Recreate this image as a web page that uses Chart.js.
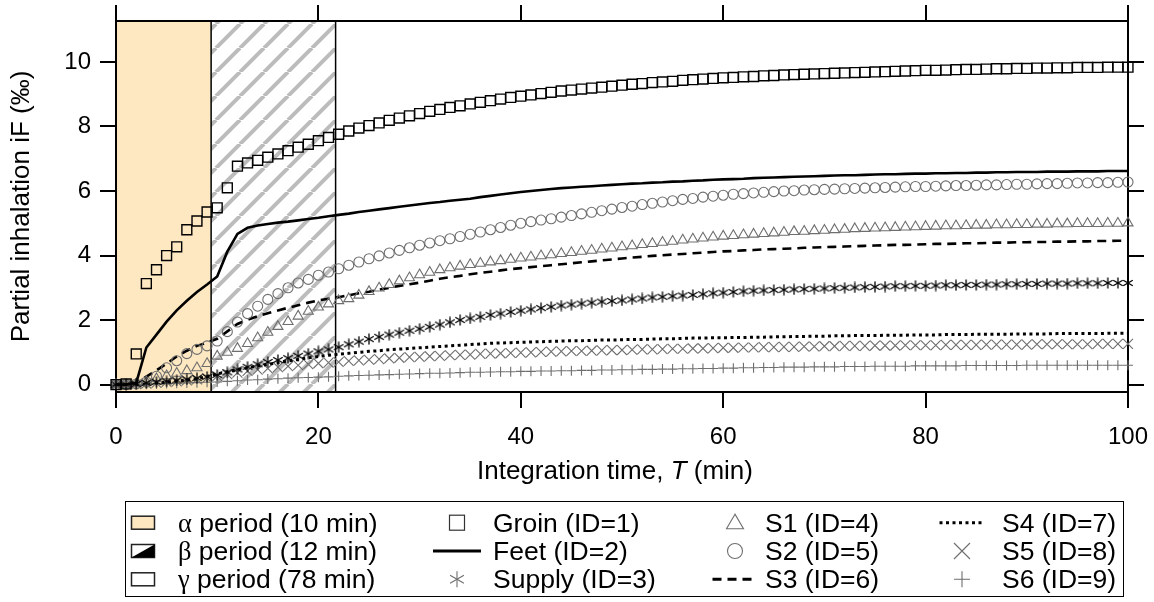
<!DOCTYPE html>
<html lang="en">
<head>
<meta charset="UTF-8">
<title>Partial inhalation iF</title>
<script src="https://cdn.jsdelivr.net/npm/chart.js@4.4.1/dist/chart.umd.min.js"></script>
<style>
  body { margin: 0; background: #fff; }
  #wrap { position: relative; width: 1154px; height: 602px; background: #fff; font-family: "Liberation Sans", Arial, sans-serif; color: #000; }
  #chart { position: absolute; left: 0; top: 0; }
  #xtitle { position: absolute; left: 0; width: 1230px; top: 455px; line-height: 30px; font-size: 26px; text-align: center; white-space: nowrap; }
  #legendBox { position: absolute; left: 125px; top: 501px; width: 997px; height: 94px; border: 1.5px solid #000; }
  .lg { position: absolute; font-size: 26.5px; line-height: 28px; white-space: nowrap; }
  .gr { font-family: "Liberation Serif", "DejaVu Serif", serif; }
  #sym { position: absolute; left: 0; top: 0; }
</style>
</head>
<body>
<div id="wrap">
  <canvas id="chart" width="1154" height="602"></canvas>
  <div id="xtitle">Integration time, <i>T</i> (min)</div>
  <div id="legendBox"></div>
  <svg id="sym" width="1154" height="602"></svg>
</div>
<script>
// integration time grid (min)
var minutes = [];
for (var i = 0; i <= 100; i++) minutes.push(i);

var groin = [0.00, 0.02, 0.95, 3.13, 3.56, 4.00, 4.27, 4.80, 5.07, 5.35,
  5.48, 6.10, 6.77, 6.87, 6.95, 7.05, 7.15, 7.25, 7.36, 7.45,
  7.56, 7.66, 7.76, 7.86, 7.95, 8.03, 8.11, 8.19, 8.26, 8.33,
  8.40, 8.47, 8.53, 8.59, 8.64, 8.70, 8.75, 8.80, 8.85, 8.90,
  8.94, 8.98, 9.02, 9.06, 9.10, 9.13, 9.16, 9.19, 9.22, 9.25,
  9.28, 9.31, 9.33, 9.36, 9.38, 9.40, 9.43, 9.45, 9.47, 9.49,
  9.51, 9.52, 9.54, 9.55, 9.57, 9.58, 9.60, 9.61, 9.62, 9.63,
  9.64, 9.65, 9.66, 9.67, 9.68, 9.69, 9.70, 9.71, 9.72, 9.73,
  9.74, 9.74, 9.75, 9.76, 9.77, 9.77, 9.78, 9.79, 9.79, 9.80,
  9.80, 9.81, 9.81, 9.82, 9.82, 9.83, 9.83, 9.83, 9.84, 9.84,
  9.84];

var feet = [0.00, 0.00, 0.05, 1.15, 1.55, 1.95, 2.30, 2.60, 2.87, 3.10,
  3.35, 4.12, 4.67, 4.86, 4.93, 4.98, 5.02, 5.05, 5.09, 5.13,
  5.17, 5.22, 5.26, 5.30, 5.35, 5.39, 5.43, 5.47, 5.51, 5.55,
  5.59, 5.63, 5.66, 5.70, 5.73, 5.76, 5.81, 5.85, 5.89, 5.93,
  5.97, 6.00, 6.03, 6.06, 6.09, 6.11, 6.13, 6.15, 6.17, 6.19,
  6.21, 6.23, 6.24, 6.26, 6.27, 6.29, 6.30, 6.32, 6.33, 6.35,
  6.36, 6.37, 6.38, 6.40, 6.41, 6.42, 6.43, 6.44, 6.45, 6.46,
  6.47, 6.48, 6.49, 6.49, 6.50, 6.51, 6.52, 6.52, 6.53, 6.54,
  6.54, 6.55, 6.55, 6.56, 6.56, 6.57, 6.57, 6.58, 6.58, 6.59,
  6.59, 6.59, 6.60, 6.60, 6.60, 6.61, 6.61, 6.61, 6.62, 6.62,
  6.62];

var supply = [0.00, 0.00, 0.02, 0.05, 0.08, 0.10, 0.13, 0.16, 0.20, 0.24,
  0.30, 0.38, 0.47, 0.55, 0.63, 0.70, 0.76, 0.82, 0.89, 0.96,
  1.03, 1.09, 1.16, 1.25, 1.33, 1.41, 1.48, 1.55, 1.61, 1.67,
  1.73, 1.79, 1.86, 1.93, 2.00, 2.05, 2.10, 2.16, 2.20, 2.25,
  2.29, 2.33, 2.37, 2.41, 2.45, 2.48, 2.51, 2.54, 2.57, 2.59,
  2.61, 2.64, 2.67, 2.70, 2.72, 2.74, 2.76, 2.78, 2.80, 2.83,
  2.85, 2.87, 2.89, 2.91, 2.92, 2.93, 2.94, 2.95, 2.96, 2.97,
  2.98, 2.99, 3.00, 3.01, 3.02, 3.03, 3.04, 3.05, 3.05, 3.06,
  3.06, 3.07, 3.08, 3.08, 3.09, 3.09, 3.10, 3.10, 3.11, 3.11,
  3.12, 3.12, 3.13, 3.13, 3.13, 3.14, 3.14, 3.14, 3.15, 3.15,
  3.15];

var s1 = [0.00, 0.00, 0.02, 0.08, 0.18, 0.27, 0.35, 0.43, 0.52, 0.65,
  0.88, 1.00, 1.12, 1.27, 1.45, 1.62, 1.80, 1.95, 2.12, 2.27,
  2.40, 2.50, 2.60, 2.66, 2.77, 2.88, 2.99, 3.10, 3.21, 3.31,
  3.40, 3.48, 3.56, 3.62, 3.67, 3.72, 3.76, 3.80, 3.84, 3.88,
  3.92, 3.95, 3.99, 4.02, 4.06, 4.09, 4.13, 4.16, 4.20, 4.23,
  4.27, 4.30, 4.34, 4.37, 4.41, 4.44, 4.48, 4.51, 4.54, 4.57,
  4.60, 4.62, 4.64, 4.66, 4.68, 4.70, 4.72, 4.74, 4.75, 4.77,
  4.78, 4.80, 4.81, 4.83, 4.84, 4.85, 4.86, 4.87, 4.88, 4.89,
  4.90, 4.91, 4.92, 4.92, 4.93, 4.94, 4.94, 4.95, 4.95, 4.96,
  4.96, 4.97, 4.97, 4.98, 4.98, 4.99, 4.99, 4.99, 5.00, 5.00,
  5.01];

var s2 = [0.00, 0.00, 0.02, 0.08, 0.26, 0.52, 0.74, 0.96, 1.09, 1.20,
  1.35, 1.64, 1.94, 2.20, 2.43, 2.64, 2.82, 3.00, 3.15, 3.26,
  3.39, 3.49, 3.59, 3.70, 3.80, 3.90, 3.99, 4.08, 4.16, 4.24,
  4.32, 4.39, 4.46, 4.52, 4.59, 4.66, 4.73, 4.80, 4.87, 4.94,
  5.00, 5.05, 5.10, 5.14, 5.19, 5.24, 5.29, 5.34, 5.39, 5.44,
  5.49, 5.53, 5.58, 5.62, 5.66, 5.70, 5.74, 5.77, 5.81, 5.84,
  5.87, 5.90, 5.92, 5.94, 5.96, 5.98, 6.00, 6.01, 6.03, 6.04,
  6.05, 6.06, 6.07, 6.08, 6.09, 6.10, 6.11, 6.12, 6.13, 6.14,
  6.14, 6.15, 6.16, 6.17, 6.17, 6.18, 6.19, 6.19, 6.20, 6.21,
  6.21, 6.22, 6.23, 6.23, 6.24, 6.25, 6.25, 6.26, 6.26, 6.27,
  6.28];

var s3 = [0.00, 0.00, 0.05, 0.25, 0.44, 0.65, 0.87, 1.05, 1.20, 1.30,
  1.42, 1.65, 1.88, 2.01, 2.12, 2.21, 2.30, 2.38, 2.46, 2.54,
  2.61, 2.66, 2.71, 2.77, 2.83, 2.88, 2.94, 3.00, 3.06, 3.11,
  3.16, 3.22, 3.28, 3.33, 3.37, 3.42, 3.46, 3.50, 3.54, 3.58,
  3.61, 3.64, 3.67, 3.70, 3.73, 3.76, 3.79, 3.82, 3.85, 3.88,
  3.91, 3.94, 3.96, 3.99, 4.01, 4.03, 4.05, 4.07, 4.09, 4.11,
  4.13, 4.14, 4.16, 4.17, 4.19, 4.20, 4.21, 4.22, 4.24, 4.25,
  4.26, 4.27, 4.28, 4.29, 4.30, 4.31, 4.32, 4.33, 4.33, 4.34,
  4.35, 4.36, 4.36, 4.37, 4.38, 4.38, 4.39, 4.40, 4.40, 4.41,
  4.41, 4.42, 4.42, 4.43, 4.43, 4.44, 4.44, 4.45, 4.45, 4.46,
  4.46];

var s4 = [0.00, 0.00, 0.00, 0.02, 0.05, 0.08, 0.11, 0.14, 0.18, 0.25,
  0.33, 0.40, 0.46, 0.52, 0.58, 0.63, 0.68, 0.73, 0.78, 0.83,
  0.87, 0.91, 0.94, 0.97, 1.00, 1.03, 1.05, 1.08, 1.10, 1.12,
  1.14, 1.16, 1.18, 1.20, 1.22, 1.24, 1.26, 1.28, 1.29, 1.30,
  1.31, 1.32, 1.33, 1.34, 1.35, 1.36, 1.36, 1.37, 1.38, 1.38,
  1.39, 1.40, 1.40, 1.41, 1.42, 1.42, 1.43, 1.44, 1.44, 1.45,
  1.45, 1.46, 1.46, 1.47, 1.47, 1.48, 1.48, 1.49, 1.49, 1.50,
  1.50, 1.51, 1.51, 1.52, 1.52, 1.52, 1.53, 1.53, 1.53, 1.54,
  1.54, 1.54, 1.55, 1.55, 1.55, 1.56, 1.56, 1.56, 1.56, 1.57,
  1.57, 1.57, 1.57, 1.58, 1.58, 1.58, 1.58, 1.58, 1.59, 1.59,
  1.59];

var s5 = [0.00, 0.00, 0.01, 0.03, 0.05, 0.08, 0.10, 0.13, 0.16, 0.20,
  0.26, 0.32, 0.37, 0.42, 0.46, 0.50, 0.54, 0.57, 0.60, 0.63,
  0.66, 0.68, 0.70, 0.73, 0.75, 0.77, 0.79, 0.81, 0.83, 0.85,
  0.86, 0.88, 0.89, 0.91, 0.92, 0.93, 0.95, 0.96, 0.97, 0.98,
  0.99, 1.00, 1.01, 1.02, 1.03, 1.04, 1.04, 1.05, 1.06, 1.07,
  1.07, 1.08, 1.09, 1.09, 1.10, 1.11, 1.11, 1.12, 1.12, 1.13,
  1.14, 1.14, 1.15, 1.15, 1.16, 1.16, 1.17, 1.17, 1.18, 1.18,
  1.19, 1.19, 1.20, 1.20, 1.20, 1.21, 1.21, 1.21, 1.22, 1.22,
  1.22, 1.22, 1.23, 1.23, 1.23, 1.23, 1.24, 1.24, 1.24, 1.24,
  1.24, 1.25, 1.25, 1.25, 1.25, 1.25, 1.25, 1.26, 1.26, 1.26,
  1.26];

var s6 = [0.00, 0.00, 0.00, 0.01, 0.02, 0.03, 0.04, 0.05, 0.06, 0.07,
  0.08, 0.10, 0.12, 0.14, 0.15, 0.17, 0.18, 0.20, 0.21, 0.22,
  0.23, 0.24, 0.26, 0.27, 0.28, 0.29, 0.30, 0.31, 0.32, 0.33,
  0.34, 0.35, 0.35, 0.36, 0.37, 0.38, 0.38, 0.39, 0.40, 0.40,
  0.41, 0.41, 0.42, 0.42, 0.43, 0.43, 0.44, 0.44, 0.45, 0.45,
  0.46, 0.46, 0.47, 0.47, 0.48, 0.48, 0.49, 0.49, 0.50, 0.50,
  0.51, 0.51, 0.52, 0.52, 0.53, 0.53, 0.54, 0.54, 0.54, 0.55,
  0.55, 0.55, 0.56, 0.56, 0.56, 0.57, 0.57, 0.57, 0.57, 0.58,
  0.58, 0.58, 0.58, 0.58, 0.59, 0.59, 0.59, 0.59, 0.59, 0.59,
  0.60, 0.60, 0.60, 0.60, 0.60, 0.60, 0.60, 0.60, 0.60, 0.60,
  0.60];

// period bounds as drawn on the time axis (min)
var alphaPeriod = [0, 9.4];
var betaPeriod = [9.4, 21.7];

var xTicks = [0, 20, 40, 60, 80, 100];
var yTicks = [0, 2, 4, 6, 8, 10];

var legendText = [
  ['α', ' period (10 min)'], ['β', ' period (12 min)'], ['γ', ' period (78 min)'],
  'Groin (ID=1)', 'Feet  (ID=2)', 'Supply (ID=3)',
  'S1 (ID=4)', 'S2 (ID=5)', 'S3 (ID=6)',
  'S4 (ID=7)', 'S5 (ID=8)', 'S6 (ID=9)'
];

var FONT = '"Liberation Sans", Arial, sans-serif';
var GREY = '#6e6e6e';

function pts(vals) {
  return minutes.map(function (m, k) { return { x: m, y: vals[k] }; });
}

function asterisk(size, color, lw) {
  var c = document.createElement('canvas');
  c.width = size; c.height = size;
  var g = c.getContext('2d');
  g.strokeStyle = color; g.lineWidth = lw;
  var m = size / 2, r = size / 2 - 0.5;
  [90, 30, 150].forEach(function (a) {
    var t = a * Math.PI / 180;
    g.beginPath();
    g.moveTo(m - r * Math.cos(t), m - r * Math.sin(t));
    g.lineTo(m + r * Math.cos(t), m + r * Math.sin(t));
    g.stroke();
  });
  return c;
}

function hatch() {
  var c = document.createElement('canvas');
  c.width = 24; c.height = 24;
  var g = c.getContext('2d');
  g.fillStyle = '#fff';
  g.fillRect(0, 0, 24, 24);
  g.strokeStyle = '#bcbcbc';
  g.lineWidth = 4;
  [-24, 0, 24].forEach(function (o) {
    g.beginPath();
    g.moveTo(o, 24);
    g.lineTo(o + 24, 0);
    g.stroke();
  });
  return c;
}

var periodsPlugin = {
  id: 'periods',
  beforeDraw: function (chart) {
    var ctx = chart.ctx, a = chart.chartArea, x = chart.scales.x;
    ctx.save();
    ctx.fillStyle = '#fff';
    ctx.fillRect(0, 0, chart.width, chart.height);
    var x0 = x.getPixelForValue(alphaPeriod[0]), x1 = x.getPixelForValue(alphaPeriod[1]);
    var x2 = x.getPixelForValue(betaPeriod[1]);
    ctx.fillStyle = '#fde8c2';
    ctx.fillRect(x0, a.top, x1 - x0, a.bottom - a.top);
    ctx.fillStyle = ctx.createPattern(hatch(), 'repeat');
    ctx.fillRect(x1, a.top, x2 - x1, a.bottom - a.top);
    ctx.strokeStyle = '#000';
    ctx.lineWidth = 1.5;
    [x1, x2].forEach(function (p) {
      ctx.beginPath();
      ctx.moveTo(p, a.top);
      ctx.lineTo(p, a.bottom);
      ctx.stroke();
    });
    ctx.restore();
  }
};

function frameAxis(pos, min, max, ticks, size) {
  var horiz = pos === 'top' || pos === 'bottom';
  return {
    type: 'linear', position: pos, min: min, max: max,
    afterBuildTicks: function (s) { s.ticks = ticks.map(function (v) { return { value: v }; }); },
    afterFit: function (s) {
      if (horiz) s.height = size; else s.width = size;
      s.paddingLeft = 0; s.paddingRight = 0; s.paddingTop = 0; s.paddingBottom = 0;
    },
    grid: { drawOnChartArea: false, drawTicks: true, tickLength: 16, color: '#000', lineWidth: 2 },
    border: { display: true, color: '#000', width: 2 },
    ticks: { display: false }
  };
}

var xAxis = frameAxis('bottom', 0, 100, xTicks, 100);
xAxis.ticks = { display: true, color: '#000', font: { family: FONT, size: 24 }, padding: 15, maxRotation: 0 };
var yAxis = frameAxis('left', -0.23, 11.27, yTicks, 116);
yAxis.ticks = { display: true, color: '#000', font: { family: FONT, size: 24 }, padding: 9 };
yAxis.title = { display: true, text: 'Partial inhalation iF (‰)', color: '#000', font: { family: FONT, size: 26 }, padding: { top: 6, bottom: 0 } };

var star = asterisk(12, '#000', 1.3);

new Chart(document.getElementById('chart'), {
  type: 'line',
  data: {
    datasets: [
      { label: 'Groin (ID=1)', data: pts(groin), showLine: false, pointStyle: 'rect', pointRadius: 7, pointBorderWidth: 1.4, pointBorderColor: '#000', pointBackgroundColor: 'rgba(0,0,0,0)' },
      { label: 'Feet (ID=2)', data: pts(feet), borderColor: '#000', borderWidth: 2.6, pointRadius: 0 },
      { label: 'Supply (ID=3)', data: pts(supply), showLine: false, pointStyle: star, pointRadius: 6 },
      { label: 'S1 (ID=4)', data: pts(s1), showLine: false, pointStyle: 'triangle', pointRadius: 5.8, pointBorderWidth: 1.1, pointBorderColor: GREY, pointBackgroundColor: 'rgba(0,0,0,0)' },
      { label: 'S2 (ID=5)', data: pts(s2), showLine: false, pointStyle: 'circle', pointRadius: 5, pointBorderWidth: 1.1, pointBorderColor: GREY, pointBackgroundColor: 'rgba(0,0,0,0)' },
      { label: 'S3 (ID=6)', data: pts(s3), borderColor: '#000', borderWidth: 2.6, borderDash: [9, 6], pointRadius: 0 },
      { label: 'S4 (ID=7)', data: pts(s4), borderColor: '#000', borderWidth: 3, borderDash: [3, 3.5], pointRadius: 0 },
      { label: 'S5 (ID=8)', data: pts(s5), showLine: false, pointStyle: 'crossRot', pointRadius: 7, pointBorderWidth: 1.1, pointBorderColor: GREY },
      { label: 'S6 (ID=9)', data: pts(s6), showLine: false, pointStyle: 'cross', pointRadius: 5, pointBorderWidth: 1.1, pointBorderColor: GREY }
    ]
  },
  options: {
    responsive: false,
    animation: false,
    clip: false,
    layout: { padding: { left: 0, right: 0, top: 0, bottom: 110 } },
    plugins: { legend: { display: false }, tooltip: { enabled: false } },
    scales: {
      x: xAxis,
      x2: frameAxis('top', 0, 100, xTicks, 21),
      y: yAxis,
      y2: frameAxis('right', -0.23, 11.27, yTicks, 26)
    }
  },
  plugins: [periodsPlugin]
});

// legend (HTML text + svg symbols)
var colText = [178, 493, 765, 1002];
var colSym = [143, 457, 735, 962];
var rowY = [522.7, 551, 579.3];
var wrap = document.getElementById('wrap');
var svg = document.getElementById('sym');
var NS = 'http://www.w3.org/2000/svg';

function el(tag, attrs) {
  var e = document.createElementNS(NS, tag);
  for (var k in attrs) e.setAttribute(k, attrs[k]);
  svg.appendChild(e);
  return e;
}

legendText.forEach(function (t, k) {
  var col = Math.floor(k / 3), row = k % 3;
  var d = document.createElement('div');
  d.className = 'lg';
  d.style.left = colText[col] + 'px';
  d.style.top = (rowY[row] - 14) + 'px';
  if (Array.isArray(t)) {
    var g = document.createElement('span');
    g.className = 'gr';
    g.textContent = t[0];
    d.appendChild(g);
    d.appendChild(document.createTextNode(t[1]));
  } else {
    d.textContent = t;
  }
  wrap.appendChild(d);
});

function symbol(kind, cx, cy) {
  if (kind === 'alpha' || kind === 'beta' || kind === 'gamma') {
    el('rect', { x: cx - 11.5, y: cy - 6.5, width: 23, height: 13, fill: kind === 'alpha' ? '#fde8c2' : '#fff', stroke: '#222', 'stroke-width': 1.5 });
    if (kind === 'beta') el('polygon', { points: (cx - 11.5) + ',' + (cy + 6.5) + ' ' + (cx + 11.5) + ',' + (cy - 6.5) + ' ' + (cx + 11.5) + ',' + (cy + 6.5), fill: '#000' });
  } else if (kind === 'rect') {
    el('rect', { x: cx - 7.5, y: cy - 7.5, width: 15, height: 15, fill: 'none', stroke: '#333', 'stroke-width': 1.2 });
  } else if (kind === 'line' || kind === 'dash' || kind === 'dot') {
    var l = kind === 'line' ? 24 : 22.5;
    var a = { x1: cx - l, y1: cy, x2: cx + l, y2: cy, stroke: '#000', 'stroke-width': 3 };
    if (kind === 'dash') a['stroke-dasharray'] = '9 6';
    if (kind === 'dot') a['stroke-dasharray'] = '3 3.5';
    el('line', a);
  } else if (kind === 'star') {
    [90, 30, 150].forEach(function (d) {
      var t = d * Math.PI / 180;
      el('line', { x1: cx - 8 * Math.cos(t), y1: cy - 8 * Math.sin(t), x2: cx + 8 * Math.cos(t), y2: cy + 8 * Math.sin(t), stroke: GREY, 'stroke-width': 1.1 });
    });
  } else if (kind === 'tri') {
    el('polygon', { points: cx + ',' + (cy - 8.5) + ' ' + (cx - 8.5) + ',' + (cy + 6) + ' ' + (cx + 8.5) + ',' + (cy + 6), fill: 'none', stroke: GREY, 'stroke-width': 1.1 });
  } else if (kind === 'circ') {
    el('circle', { cx: cx, cy: cy, r: 7.5, fill: 'none', stroke: GREY, 'stroke-width': 1.1 });
  } else if (kind === 'x') {
    el('path', { d: 'M' + (cx - 8) + ' ' + (cy - 8) + 'L' + (cx + 8) + ' ' + (cy + 8) + 'M' + (cx - 8) + ' ' + (cy + 8) + 'L' + (cx + 8) + ' ' + (cy - 8), stroke: GREY, 'stroke-width': 1.1 });
  } else if (kind === 'plus') {
    el('path', { d: 'M' + (cx - 8) + ' ' + cy + 'L' + (cx + 8) + ' ' + cy + 'M' + cx + ' ' + (cy - 8) + 'L' + cx + ' ' + (cy + 8), stroke: GREY, 'stroke-width': 1.1 });
  }
}

var symKinds = ['alpha', 'beta', 'gamma', 'rect', 'line', 'star', 'tri', 'circ', 'dash', 'dot', 'x', 'plus'];
symKinds.forEach(function (s, k) {
  var col = Math.floor(k / 3), row = k % 3;
  symbol(s, colSym[col], rowY[row]);
});
</script>
</body>
</html>
